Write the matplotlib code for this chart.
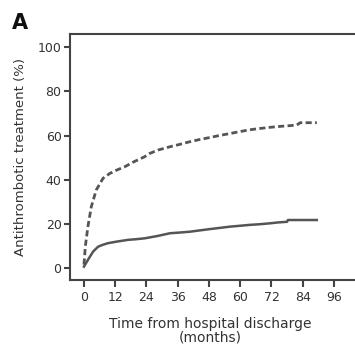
import matplotlib.pyplot as plt

# months from discharge and cumulative % on antithrombotic treatment
t_dash = [0, 0.5, 1.5, 2.8, 4.7, 7.3, 9.9, 12.5, 15.6, 19, 23.3, 25.3, 28.4, 33, 36.5,
          40.7, 44.5, 48.4, 52, 56.1, 60, 63.7, 67.6, 71.4, 76, 81.7, 83, 89.4]
y_dash = [1.5, 9.6, 18.7, 27.7, 35.3, 40.6, 42.8, 44.3, 45.8, 48.0, 50.4, 51.9, 53.4, 54.9, 55.9,
          57.2, 58.2, 59.1, 60.0, 60.9, 61.8, 62.6, 63.2, 63.7, 64.2, 64.7, 65.8, 65.8]

t_solid = [0, 1.5, 3.5, 5.4, 7.3, 9.2, 12.5, 16.9, 20, 23.3, 28.4, 33, 36.5, 40.7, 44.5,
           48.4, 52, 56.1, 60, 63.7, 67.6, 71.4, 74.5, 78, 78.3, 89.4]
y_solid = [0.6, 3.6, 7.4, 9.6, 10.5, 11.2, 11.9, 12.7, 13.0, 13.4, 14.5, 15.7, 16.0, 16.4, 17.0,
           17.6, 18.1, 18.7, 19.1, 19.5, 19.8, 20.2, 20.6, 20.9, 21.7, 21.7]

xticks = [0, 12, 24, 36, 48, 60, 72, 84, 96]
yticks = [0, 20, 40, 60, 80, 100]

fig = plt.figure(figsize=(3.55, 3.47), dpi=100)
ax = fig.add_axes([0.197, 0.193, 0.845, 0.709])

col = '#555555'
ax.plot(t_dash, y_dash, color=col, lw=2, ls=(0, (2.2, 1.2)))
ax.plot(t_solid, y_solid, color=col, lw=1.8)

ax.set_xlim(-5.4, 109.8)
ax.set_ylim(-5.5, 106)
ax.set_xticks(xticks)
ax.set_yticks(yticks)

for s in ax.spines.values():
    s.set_color('#444444')
    s.set_linewidth(1.5)

ax.tick_params(axis='both', colors='#444444', labelcolor='#333333', width=1.5, labelsize=9)
ax.tick_params(axis='x', length=5, pad=3)
ax.tick_params(axis='y', length=4, pad=2)

ax.set_xlabel('Time from hospital discharge\n(months)', fontsize=10, color='#333333',
              linespacing=0.95)
ax.xaxis.set_label_coords((210 - 70) / 300, -0.15)
ax.set_ylabel('Antithrombotic treatment (%)', fontsize=9.5, color='#333333', labelpad=8)

fig.text(0.034, 0.915, 'A', fontsize=15, fontweight='bold', color='#111111')

fig.savefig('out.png', dpi=100)
